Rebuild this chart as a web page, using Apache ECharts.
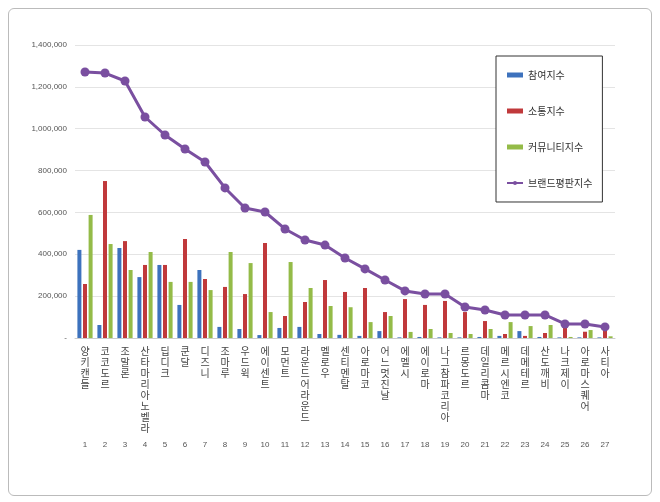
<!DOCTYPE html>
<html><head><meta charset="utf-8">
<script src="https://cdn.jsdelivr.net/npm/echarts@6/dist/echarts.min.js"></script>
<style>body{margin:0;background:#fff}#c{width:660px;height:502px}#b{position:absolute;left:8px;top:8px;width:642px;height:486px;border:1px solid #bbb;border-radius:6px;pointer-events:none}</style>
</head><body><div id="c"></div><div id="b"></div>
<script>
const categories=['양키캔들','코코도르','조말론','산타마리아노벨라','딥디크','쿤달','디즈니','조마루','우드윅','에이센트','모먼트','라운드어라운드','멜로우','센티멘탈','아로마코','어느멋진날','에멜시','에이로마','나그참파코리아','르몽도르','데일리콤마','메르시엔코','데메테르','산도깨비','나크제이','아로마스퀘어','사티아'];
const ranks=categories.map((c,i)=>String(i+1));
const participation=[421000,62000,430000,291000,349000,158000,325000,53000,43000,14000,48000,53000,19000,15000,10000,33000,3000,5000,3000,3000,5000,10000,33000,5000,3000,3000,3000];
const communication=[258000,750000,463000,349000,349000,473000,282000,244000,210000,454000,105000,172000,277000,220000,239000,124000,186000,158000,177000,124000,81000,19000,10000,24000,55000,30000,40000];
const community=[588000,449000,325000,411000,268000,268000,229000,411000,358000,124000,363000,239000,153000,147000,76000,105000,29000,43000,24000,19000,43000,76000,57000,62000,5000,38000,8000];
const brand=[1271000,1266000,1228000,1056000,970000,903000,841000,717000,621000,602000,521000,468000,444000,382000,330000,277000,225000,210000,210000,148000,134000,110000,110000,110000,67000,67000,53000];
const yTicks={min:0,max:1400000,interval:200000};
const ch=echarts.init(document.getElementById('c'));
const F='"Noto Sans CJK KR", sans-serif';
ch.setOption({
 animation:false,
 grid:{left:75,right:45,top:45,bottom:164},
 legend:{orient:'vertical',left:496,top:56,width:114,height:158,itemGap:26,padding:[14,10,14,10],borderColor:'#333',borderWidth:1,backgroundColor:'#fff',
   textStyle:{fontFamily:F,fontSize:10,color:'#333'},itemWidth:16,itemHeight:5,
   data:[{name:'참여지수',icon:'rect'},{name:'소통지수',icon:'rect'},{name:'커뮤니티지수',icon:'rect'},{name:'브랜드평판지수'}]},
 xAxis:[{type:'category',data:categories,axisLine:{lineStyle:{color:'#ccc'}},axisTick:{length:112,lineStyle:{color:'#e6e6e6'}},
   axisLabel:{interval:0,margin:8,verticalAlign:'top',fontFamily:F,fontSize:10,lineHeight:11,color:'#444',formatter:v=>v.split('').join('\n')}},
  {type:'category',data:ranks,position:'bottom',offset:95,axisLine:{show:false},axisTick:{show:false},
   axisLabel:{interval:0,fontSize:8,color:'#555'}}],
 yAxis:{type:'value',min:yTicks.min,max:yTicks.max,interval:yTicks.interval,axisLine:{show:false},axisTick:{show:false},
   splitLine:{lineStyle:{color:'#e4e4e4'}},axisLabel:{fontSize:8,color:'#555',formatter:v=>v===0?'-':v.toLocaleString('en-US')}},
 series:[
  {name:'참여지수',type:'bar',data:participation,barWidth:4,barGap:'40%',itemStyle:{color:'#3d72bd'}},
  {name:'소통지수',type:'bar',data:communication,barWidth:4,itemStyle:{color:'#c0393b'}},
  {name:'커뮤니티지수',type:'bar',data:community,barWidth:4,itemStyle:{color:'#94bb48'}},
  {name:'브랜드평판지수',type:'line',data:brand,symbol:'circle',symbolSize:9,lineStyle:{color:'#7a4fa0',width:3},itemStyle:{color:'#7a4fa0'}}
 ]
});
</script></body></html>
